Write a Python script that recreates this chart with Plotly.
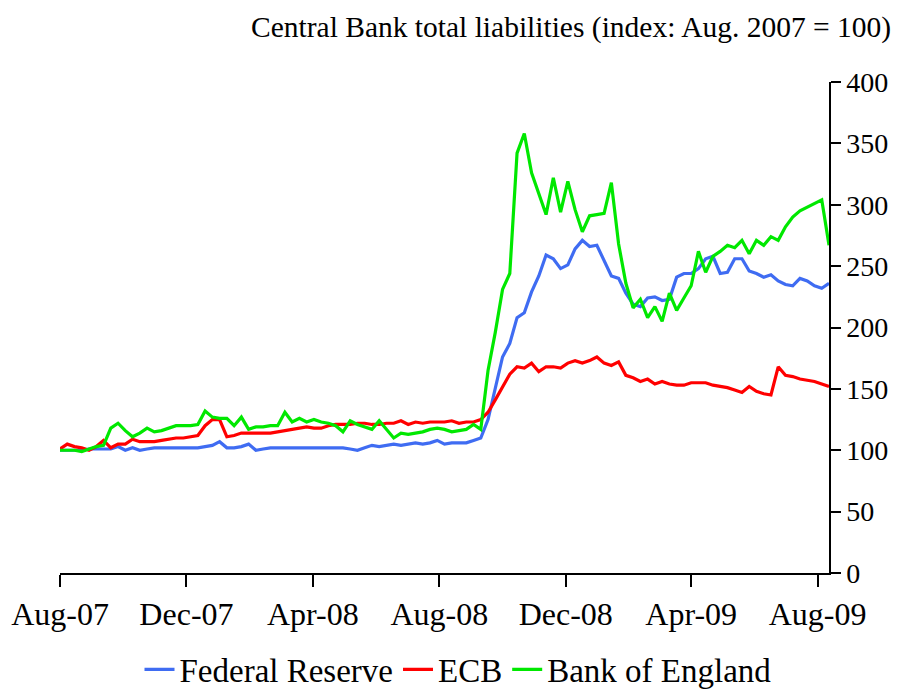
import pandas as pd
import plotly.graph_objects as go

# Weekly observations starting Aug 1, 2007
dates = pd.date_range("2007-08-01", periods=107, freq="7D")

fed = [100, 100, 100, 100, 101, 101, 101, 101, 103, 100,
       102, 100, 101, 102, 102, 102, 102, 102, 102, 102,
       103, 104, 107, 102, 102, 103, 105, 100, 101, 102,
       102, 102, 102, 102, 102, 102, 102, 102, 102, 102,
       101, 100, 102, 104, 103, 104, 105, 104, 105, 106,
       105, 106, 108, 105, 106, 106, 106, 108, 110, 125,
       152, 176, 187, 208, 212, 229, 242, 259, 256, 248,
       251, 264, 271, 266, 267, 254, 242, 240, 228, 219,
       217, 224, 225, 222, 223, 241, 244, 244, 248, 256,
       258, 244, 245, 256, 256, 246, 244, 241, 243, 238,
       235, 234, 240, 238, 234, 232, 236]

ecb = [101, 105, 103, 102, 100, 103, 108, 102, 105, 105,
       109, 107, 107, 107, 108, 109, 110, 110, 111, 112,
       120, 125, 125, 111, 112, 114, 114, 114, 114, 114,
       115, 116, 117, 118, 119, 118, 118, 120, 121, 121,
       121, 122, 122, 121, 121, 122, 122, 124, 121, 123,
       122, 123, 123, 123, 124, 122, 123, 123, 125, 131,
       141, 152, 162, 168, 167, 171, 164, 168, 168, 167,
       171, 173, 171, 173, 176, 171, 169, 172, 161, 159,
       156, 158, 154, 156, 154, 153, 153, 155, 155, 155,
       153, 152, 151, 149, 147, 152, 148, 146, 145, 168,
       161, 160, 158, 157, 156, 154, 152]

boe = [100, 100, 100, 99, 101, 103, 104, 118, 122, 116,
       111, 114, 118, 115, 116, 118, 120, 120, 120, 121,
       132, 127, 126, 126, 120, 127, 117, 119, 119, 120,
       120, 131, 123, 126, 123, 125, 123, 122, 120, 115,
       124, 121, 119, 117, 124, 117, 110, 114, 113, 114,
       115, 117, 118, 117, 115, 116, 117, 121, 117, 165,
       196, 231, 244, 342, 358, 326, 308, 292, 322, 294,
       319, 296, 278, 291, 292, 293, 318, 268, 236, 216,
       223, 208, 217, 205, 228, 214, 224, 234, 262, 245,
       258, 262, 267, 265, 271, 260, 271, 267, 274, 271,
       282, 290, 295, 298, 301, 304, 267]

tick_dates = ["2007-08-01", "2007-12-01", "2008-04-01", "2008-08-01",
              "2008-12-01", "2009-04-01", "2009-08-01"]
tick_labels = ["Aug-07", "Dec-07", "Apr-08", "Aug-08", "Dec-08", "Apr-09", "Aug-09"]
y_ticks = [0, 50, 100, 150, 200, 250, 300, 350, 400]

FONT = "Liberation Serif, Times New Roman, serif"

fig = go.Figure()
fig.add_trace(go.Scatter(x=dates, y=fed, mode="lines", name="Federal Reserve",
                         line=dict(color="#3f6cf2", width=3.2)))
fig.add_trace(go.Scatter(x=dates, y=ecb, mode="lines", name="ECB",
                         line=dict(color="#ff0000", width=3.2)))
fig.add_trace(go.Scatter(x=dates, y=boe, mode="lines", name="Bank of England",
                         line=dict(color="#00e800", width=3.2)))

fig.update_layout(
    width=900, height=689,
    margin=dict(l=52, r=79, t=74, b=124, autoexpand=False),
    paper_bgcolor="white", plot_bgcolor="white",
    font=dict(family=FONT, size=28, color="black"),
    showlegend=True,
    legend=dict(orientation="h", x=0.5, xanchor="center",
                xref="container", yref="container", y=0.04, yanchor="middle",
                font=dict(size=33), tracegroupgap=0),
    xaxis=dict(
        type="date",
        range=["2007-08-01", "2009-08-12"],
        tickvals=tick_dates, ticktext=tick_labels,
        ticks="outside", ticklen=12, tickwidth=1.5, tickcolor="black",
        showline=True, linecolor="black", linewidth=1.5,
        showgrid=False, zeroline=False, automargin=False,
        tickfont=dict(size=32),
    ),
    yaxis=dict(
        side="right",
        range=[0, 400],
        tickvals=y_ticks,
        ticks="outside", ticklen=10, tickwidth=1.5, tickcolor="black",
        showline=True, linecolor="black", linewidth=1.5,
        showgrid=False, zeroline=False, automargin=False,
        tickfont=dict(size=28),
    ),
    annotations=[dict(
        text="Central Bank total liabilities (index: Aug. 2007 = 100)",
        xref="paper", yref="paper", x=1.083, y=1.112,
        xanchor="right", yanchor="middle", showarrow=False,
        font=dict(size=29.5, family=FONT),
    )],
)

fig.write_html("out.html")
